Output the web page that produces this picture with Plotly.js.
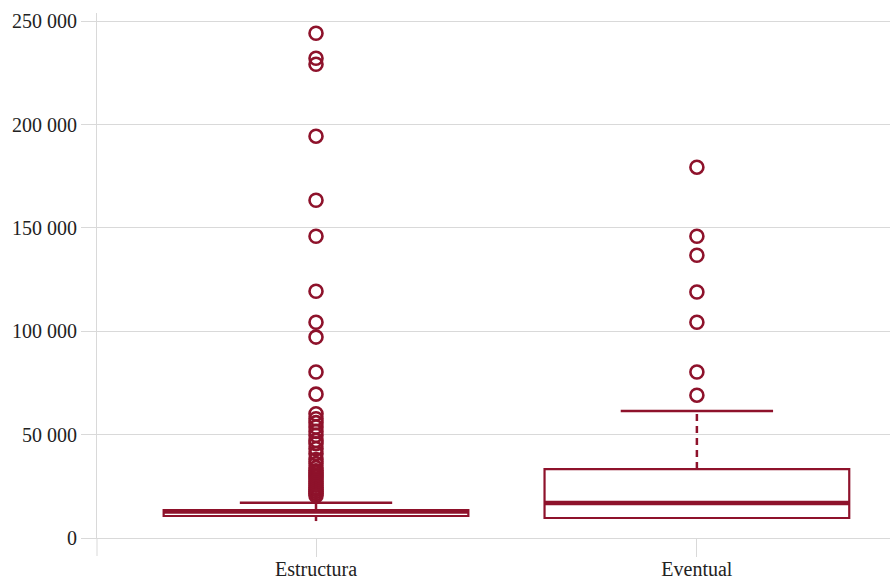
<!DOCTYPE html>
<html><head><meta charset="utf-8">
<script src="https://cdn.plot.ly/plotly-3.0.1.min.js"></script>
<style>html,body{margin:0;padding:0;background:#fff}</style>
</head><body><div id="chart" style="width:890px;height:580px"></div>
<script>
const categories = ['Estructura', 'Eventual'];
const q1 = [10640, 9670];
const median = [12800, 16930];
const q3 = [13540, 33370];
const lowerWhisker = [8200, 9670];
const upperWhisker = [17070, 61400];
const outliersEstructura = [244200, 232100, 229200, 194400, 163400, 146000, 119400, 104400, 97200, 80300, 69600,
  60100, 57700, 55800, 53700, 51600, 49700, 47200, 45600, 43200, 40800, 38000, 36000, 34000, 32500, 31500,
  30500, 29500, 28500, 27500, 26500, 25500, 24500, 23500, 22500, 21500, 20500];
const outliersEventual = [179400, 146000, 136800, 119000, 104400, 80300, 69100];
const yTicks = [0, 50000, 100000, 150000, 200000, 250000];

const RED = '#8e122b';
const GRID = '#d9d9d9';
const BOXW = 0.8;
const CAPW = 0.4;
const pos = categories.map((c, i) => i);

const boxTrace = {
  type: 'box', x: pos, q1: q1, median: median, q3: q3,
  lowerfence: q1, upperfence: q3, width: BOXW, whiskerwidth: 0,
  line: {color: RED, width: 2.2}, fillcolor: 'rgba(0,0,0,0)',
  boxpoints: false, hoverinfo: 'skip'
};
const medTrace = {
  type: 'scatter', mode: 'lines', hoverinfo: 'skip',
  x: pos.flatMap(i => [i - BOXW / 2, i + BOXW / 2, null]),
  y: median.flatMap(m => [m, m, null]),
  line: {color: RED, width: 4.5}
};
const whiskTrace = {
  type: 'scatter', mode: 'lines', hoverinfo: 'skip',
  x: pos.flatMap(i => [i, i, null, i, i, null]),
  y: pos.flatMap(i => [q3[i], upperWhisker[i], null, q1[i], lowerWhisker[i], null]),
  line: {color: RED, width: 2.5, dash: '7px,5px'}
};
const capTrace = {
  type: 'scatter', mode: 'lines', hoverinfo: 'skip',
  x: pos.flatMap(i => [i - CAPW / 2, i + CAPW / 2, null]),
  y: upperWhisker.flatMap(u => [u, u, null]),
  line: {color: RED, width: 2.5}
};
const outX = outliersEstructura.map(() => 0).concat(outliersEventual.map(() => 1));
const outY = outliersEstructura.concat(outliersEventual);
const outTrace = {
  type: 'scatter', mode: 'markers', x: outX, y: outY,
  marker: {symbol: 'circle-open', size: 13, color: RED, line: {color: RED, width: 2.6}}
};

const layout = {
  width: 890, height: 580,
  margin: {l: 97, r: 0, t: 13, b: 42},
  showlegend: false,
  paper_bgcolor: '#fff', plot_bgcolor: '#fff',
  separators: '. ',
  font: {family: '"Liberation Serif", serif', size: 20, color: '#222'},
  xaxis: {
    range: [-0.575, 1.507], tickvals: pos, ticktext: categories,
    ticks: 'outside', ticklen: 18, tickcolor: GRID, tickwidth: 1, ticklabelstandoff: -5,
    showgrid: false, zeroline: false, showline: true, linecolor: GRID, linewidth: 1
  },
  yaxis: {
    range: [0, 254000], tickvals: yTicks, tickformat: ',d',
    ticks: 'outside', ticklen: 15, tickcolor: GRID, tickwidth: 1,
    gridcolor: GRID, gridwidth: 1, showline: true, linecolor: GRID, linewidth: 1, zeroline: false
  },
  shapes: [{type: 'line', xref: 'paper', yref: 'paper', x0: 0, x1: 0, y0: -18 / 525, y1: 0,
    line: {color: GRID, width: 1}}]
};

Plotly.newPlot('chart', [boxTrace, medTrace, whiskTrace, capTrace, outTrace], layout, {displayModeBar: false, staticPlot: true});
</script></body></html>
